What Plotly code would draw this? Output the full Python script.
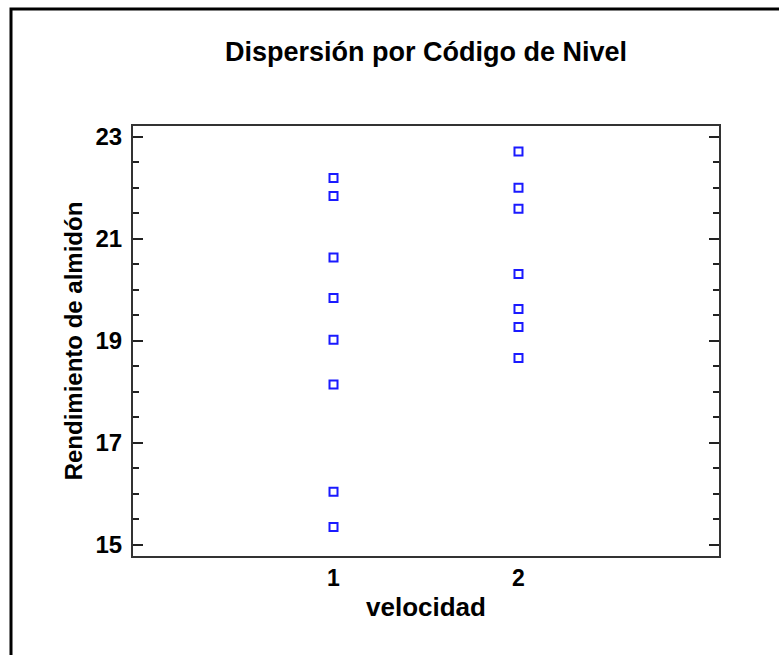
import plotly.graph_objects as go

# Data
nivel_1 = [22.19, 21.84, 20.63, 19.84, 19.02, 18.14, 16.04, 15.35]
nivel_2 = [22.71, 22.00, 21.59, 20.31, 19.62, 19.27, 18.66]
x_ticks = [1, 2]
x_labels = ["1", "2"]
y_ticks = [15, 17, 19, 21, 23]

W, H = 779, 655
ml, mr, mt, mb = 133, 60, 126, 99
pw, ph = W - ml - mr, H - mt - mb

fig = go.Figure()
xs = [1] * len(nivel_1) + [2] * len(nivel_2)
ys = nivel_1 + nivel_2
fig.add_trace(go.Scatter(
    x=xs, y=ys, mode="markers",
    marker=dict(symbol="square-open", size=8, color="#1a1aff",
                line=dict(width=2, color="#1a1aff")),
    showlegend=False, hoverinfo="x+y"))

font = "Liberation Sans, Arial, sans-serif"
fig.update_layout(
    width=W, height=H,
    margin=dict(l=ml, r=mr, t=mt, b=mb),
    paper_bgcolor="white", plot_bgcolor="white",
    font=dict(family=font, color="black"),
    title=dict(text="<b>Dispersión por Código de Nivel</b>",
               x=(ml + pw / 2) / W, xanchor="center",
               y=1 - 52 / H, yanchor="middle",
               font=dict(size=27, family=font, color="black")),
)
fig.update_xaxes(
    range=[-0.084, 3.084], tickmode="array", tickvals=x_ticks,
    ticktext=[f"<b>{t}</b>" for t in x_labels],
    ticks="", showgrid=False, zeroline=False,
    showline=True, linecolor="#333333", linewidth=2, mirror=True,
    tickfont=dict(size=23, family=font, color="black"),
    title=dict(text="<b>velocidad</b>", font=dict(size=26, family=font, color="black"),
               standoff=8),
)
fig.update_yaxes(
    range=[14.78, 23.21], tickmode="array", tickvals=y_ticks,
    ticktext=[f"<b>{v}</b>" for v in y_ticks],
    ticks="inside", ticklen=10, tickwidth=1.5, tickcolor="#222222",
    minor=dict(ticks="inside", ticklen=6, tickwidth=1.5, tickcolor="#222222",
               dtick=0.5, tick0=15, showgrid=False),
    showgrid=False, zeroline=False,
    showline=True, linecolor="#333333", linewidth=2, mirror="ticks",
    tickfont=dict(size=24, family=font, color="black"),
    ticklabelstandoff=4,
    title=dict(text="<b>Rendimiento de almidón</b>", font=dict(size=24, family=font, color="black"),
               standoff=6),
)

# outer frame (cropped: only top and left visible)
fig.add_shape(type="rect", xref="paper", yref="paper",
              x0=(11 - ml) / pw, x1=2.0, y0=-1.0, y1=(H - 9 - mb) / ph,
              line=dict(color="black", width=3), layer="above")

fig.write_html("out.html", config={"displayModeBar": False},
               post_script="document.body.style.margin='0';document.body.style.overflow='hidden';")
